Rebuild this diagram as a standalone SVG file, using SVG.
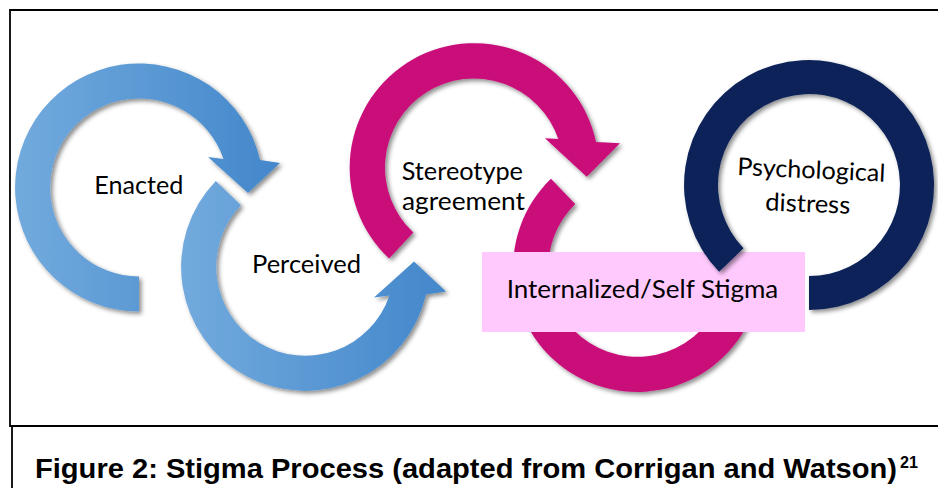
<svg xmlns="http://www.w3.org/2000/svg" width="938" height="488" viewBox="0 0 938 488">
  <defs>
    <linearGradient id="blueGrad" x1="0" y1="0" x2="1" y2="0">
      <stop offset="0" stop-color="#72AADD"/>
      <stop offset="1" stop-color="#4387CB"/>
    </linearGradient>
    <filter id="shadow" x="-10%" y="-10%" width="125%" height="125%">
      <feDropShadow dx="2.5" dy="2.5" stdDeviation="2" flood-color="#000" flood-opacity="0.45"/>
    </filter>
    <style>
      .frame { fill: none; stroke: #000; stroke-width: 1.8; }
      .blue { fill: url(#blueGrad); filter: url(#shadow); }
      .magenta { fill: #C90A79; filter: url(#shadow); }
      .navy { fill: #0A2258; filter: url(#shadow); }
      .box { fill: #FFC9FD; }
      .lbl { font-family: Lato, "Open Sans", "Noto Sans", sans-serif; font-size: 24.5px; fill: #000; }
      .cap { font-family: "Liberation Sans", Arial, sans-serif; font-weight: bold; fill: #000; }
    </style>
  </defs>

  <rect x="0" y="0" width="938" height="488" fill="#fff"/>

  <!-- frame -->
  <g id="frame">
    <polyline class="frame" points="938,10 10,10 10,426 938,426"/>
    <line class="frame" x1="12" y1="426" x2="12" y2="488" stroke-width="1.4"/>
  </g>

  <!-- circular arrows (connectors) -->
  <g id="connectors">
    <path id="arrow-enacted" class="blue" d="M139,311.5 A124,124 0 1 1 260,160 L280,163 L248,193 L208,157 L223.5,159 A89,89 0 1 0 139,276.5 Z"/>
    <path id="arrow-perceived" class="blue" d="M215.8,180.9 A124,124 0 1 0 426,294.5 L446,291.5 L414,261.5 L374,297.5 L389.5,295.5 A89,89 0 1 1 241,205.2 Z"/>
    <path id="arrow-stereotype" class="magenta" d="M389.1,258.6 A124.5,124.5 0 1 1 596,142 L620,143.3 L586.7,176.7 L545,138.3 L558.3,139 A89,89 0 1 0 413.3,232.6 Z"/>
    <path id="arrow-internalized" class="magenta" d="M550.9,178.8 A124,124 0 1 0 758,295.5 L778,292.5 L746,262.5 L706,298.5 L721.5,296.5 A89,89 0 1 1 575.2,204 Z"/>
  </g>

  <g id="node-enacted">
    <text class="lbl" x="94.3" y="194" textLength="89" lengthAdjust="spacingAndGlyphs">Enacted</text>
  </g>
  <g id="node-perceived">
    <text class="lbl" x="252" y="273" textLength="109" lengthAdjust="spacingAndGlyphs">Perceived</text>
  </g>
  <g id="node-stereotype">
    <text class="lbl" x="401.7" y="180" textLength="121.3" lengthAdjust="spacingAndGlyphs">Stereotype</text>
    <text class="lbl" x="402" y="210" textLength="123" lengthAdjust="spacingAndGlyphs">agreement</text>
  </g>
  <g id="node-internalized">
    <rect class="box" x="482" y="252" width="323" height="80"/>
    <text class="lbl" x="506.7" y="297.5" textLength="271.6" lengthAdjust="spacingAndGlyphs">Internalized/Self Stigma</text>
  </g>
  <g id="node-distress">
    <path class="navy" d="M809,310 A125,125 0 1 0 719.1,271.8 L743.5,248.2 A91,91 0 1 1 809,276 Z"/>
    <text class="lbl" x="811" y="178.3" text-anchor="middle" textLength="148" lengthAdjust="spacingAndGlyphs" transform="rotate(2.6 811 178.3)">Psychological</text>
    <text class="lbl" x="807.5" y="212" text-anchor="middle" textLength="85" lengthAdjust="spacingAndGlyphs" transform="rotate(2.2 807.5 212)">distress</text>
  </g>

  <g id="caption">
    <text class="cap" x="35" y="478" font-size="28" textLength="862" lengthAdjust="spacingAndGlyphs">Figure 2: Stigma Process (adapted from Corrigan and Watson)</text>
    <text class="cap" x="900" y="468" font-size="16" textLength="18" lengthAdjust="spacingAndGlyphs">21</text>
  </g>
</svg>
